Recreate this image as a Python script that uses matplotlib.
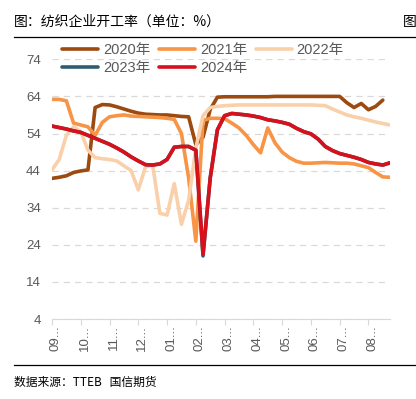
import numpy as np
import matplotlib.pyplot as plt
from matplotlib.lines import Line2D

plt.rcParams['font.family'] = ['Liberation Sans', 'Noto Sans CJK SC', 'DejaVu Sans']

# weekly textile operating rate (%), Sep -> Aug
weeks = np.arange(48)
month_labels = ['09...', '10...', '11...', '12...', '01...', '02...',
                '03...', '04...', '05...', '06...', '07...', '08...']

y2020 = [41.9, 42.2, 42.6, 43.5, 43.9, 44.2, 61.0, 61.8, 61.7, 61.2, 60.6, 60.0,
         59.5, 59.2, 59.1, 59.0, 59.0, 58.8, 58.6, 58.5, 51.0, 53.0, 60.5, 63.8,
         63.9, 63.9, 63.9, 63.9, 63.9, 63.9, 63.9, 64.0, 64.0, 64.0, 64.0, 64.0,
         64.0, 64.0, 64.0, 64.0, 64.0, 62.3, 61.0, 62.1, 60.4, 61.3, 63.0, np.nan]
y2021 = [63.2, 63.2, 62.8, 56.8, 56.3, 55.8, 53.5, 57.0, 58.5, 58.8, 59.0, 58.7,
         58.6, 58.5, 58.4, 58.3, 58.1, 57.8, 54.0, 42.0, 25.0, 57.5, 58.1, 58.1,
         58.0, 56.8, 55.5, 53.5, 51.0, 48.8, 55.5, 51.5, 49.0, 47.5, 46.5, 46.0,
         46.0, 46.1, 46.2, 46.1, 46.0, 46.0, 45.8, 45.3, 44.8, 43.5, 42.3, 42.2]
y2022 = [44.2, 47.0, 53.5, 55.8, 54.5, 49.5, 47.5, 47.2, 47.0, 46.6, 45.3, 44.0,
         38.8, 45.0, 45.5, 32.5, 32.0, 40.5, 29.5, 36.0, 50.0, 58.8, 61.0, 61.3,
         61.5, 61.6, 61.7, 61.7, 61.7, 61.7, 61.7, 61.7, 61.7, 61.7, 61.7, 61.7,
         61.7, 61.6, 61.5, 60.6, 59.8, 59.0, 58.5, 58.1, 57.6, 57.1, 56.7, 56.3]
y2023 = [56.0, 55.6, 55.2, 54.7, 54.3, 53.5, 52.7, 51.9, 51.1, 50.1, 49.0, 47.7,
         46.6, 45.6, 45.5, 45.8, 47.0, 50.3, 50.5, 50.5, 49.5, 21.0, 42.0, 55.0,
         58.8, 59.4, 59.2, 59.0, 58.7, 58.3, 57.7, 57.4, 57.0, 56.5, 55.4, 54.5,
         53.9, 52.5, 50.5, 49.4, 48.6, 48.1, 47.6, 47.0, 46.2, 45.8, 45.5, 46.1]
y2024 = [56.0, 55.6, 55.2, 54.7, 54.3, 53.5, 52.7, 51.9, 51.1, 50.1, 49.0, 47.7,
         46.6, 45.6, 45.5, 45.8, 47.0, 50.3, 50.5, 50.5, 49.5, 21.5, 42.0, 55.0,
         58.8, 59.4, 59.2, 59.0, 58.7, 58.3, 57.7, 57.4, 57.0, 56.5, 55.4, 54.5,
         53.9, 52.5, 50.5, 49.4, 48.6, 48.1, 47.6, 47.0, 46.2, 45.8, 45.5, 46.1]

series = [('2020年', y2020, '#9C4A10'),
          ('2021年', y2021, '#F79445'),
          ('2022年', y2022, '#FAD0AA'),
          ('2023年', y2023, '#2E5E6E'),
          ('2024年', y2024, '#D8101C')]

fig = plt.figure(figsize=(4.16, 3.99), dpi=100)
ax = fig.add_axes([52 / 416, 1 - 319 / 399, 338 / 416, (319 - 59.3) / 399])

for name, vals, col in series:
    ax.plot(weeks, vals, color=col, lw=2.6, solid_joinstyle='round',
            solid_capstyle='round', label=name)

ax.set_xlim(0, 47)
ax.set_ylim(4, 74)
ax.set_yticks(np.arange(4, 75, 10))
ax.yaxis.grid(True, color='#D9D9D9', ls=(0, (5, 4)), lw=0.9)
ax.set_axisbelow(True)
for s in ['top', 'right', 'left']:
    ax.spines[s].set_visible(False)
ax.spines['bottom'].set_color('#D9D9D9')
ax.tick_params(axis='y', length=0, labelsize=9.5, labelcolor='#595959', pad=8)

tick_pos = np.arange(0, 48, 4)
ax.set_xticks(tick_pos)
ax.set_xticklabels([])
ax.tick_params(axis='x', length=4, color='#D9D9D9', direction='out')
for p, lab in zip(tick_pos, month_labels):
    ax.text(p + 0.55, -0.025, lab, transform=ax.get_xaxis_transform(), rotation=90,
            ha='center', va='top', fontsize=9.5, color='#595959')

# legend, row-major order
handles, labels = ax.get_legend_handles_labels()
order = [0, 3, 1, 4, 2]
fig.legend([handles[i] for i in order], [labels[i] for i in order],
           loc='upper left', bbox_to_anchor=(62 / 416, 1 - 43 / 399), ncol=3,
           frameon=False, fontsize=10.5, labelcolor='#595959', handlelength=2.5,
           handletextpad=0.3, columnspacing=0.6, labelspacing=0.25,
           borderaxespad=0, borderpad=0)

fig.text(14 / 416, 1 - 22 / 399, '图：纺织企业开工率（单位：%）', fontsize=10,
         family=['Noto Sans CJK SC'], va='center', ha='left')
fig.text(403 / 416, 1 - 22 / 399, '图', fontsize=10, family=['Noto Sans CJK SC'],
         va='center', ha='left')
fig.add_artist(Line2D([14 / 416, 1], [1 - 37 / 399, 1 - 37 / 399], color='black', lw=0.9))
fig.add_artist(Line2D([14 / 416, 1], [1 - 365 / 399, 1 - 365 / 399], color='black', lw=0.9))
fig.text(14 / 416, 1 - 382 / 399, '数据来源：TTEB   国信期货', fontsize=8.5,
         family=['Noto Sans CJK SC'], va='center', ha='left')

fig.savefig('out.png', dpi=100)
